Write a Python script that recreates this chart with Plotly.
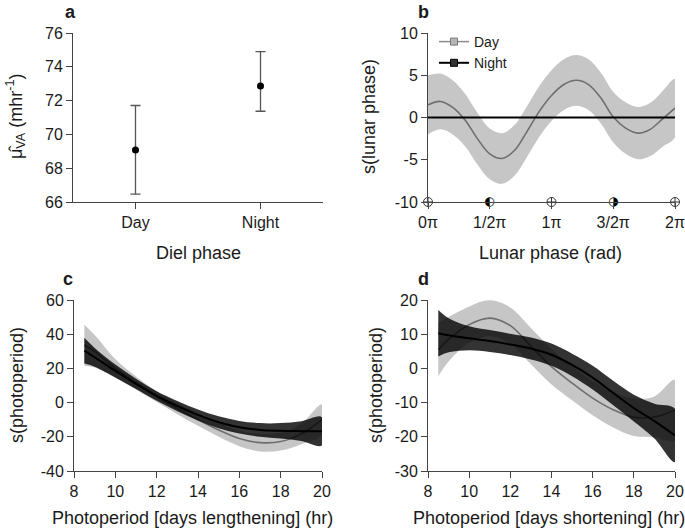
import numpy as np
import plotly.graph_objects as go

# ---------------- data ----------------
# panel a
diel = ["Day", "Night"]
mu_va = [69.08, 72.87]
mu_hi = [71.71, 74.90]
mu_lo = [66.47, 71.37]
a_ticks = [66, 68, 70, 72, 74, 76]

# panel b (lunar phase in units of pi)
lunar_x = [0.0, 0.1, 0.2, 0.3, 0.4, 0.5, 0.6, 0.7, 0.8, 0.9, 1.0,
           1.1, 1.2, 1.3, 1.4, 1.5, 1.6, 1.7, 1.8, 1.9, 2.0]
lunar_day = [1.5, 1.9, 1.2, -0.3, -2.5, -4.3, -4.85, -3.9, -1.7, 0.7, 2.6,
             3.9, 4.4, 3.9, 2.3, 0.05, -1.25, -1.85, -1.4, -0.15, 1.1]
lunar_day_hw = [3.5, 3.3, 3.2, 3.1, 3.05, 3.0, 3.0, 3.0, 3.0, 3.0, 3.0,
                3.0, 3.0, 3.0, 3.0, 3.0, 3.05, 3.1, 3.15, 3.3, 3.45]
lunar_night = [0.0, 0.0, 0.0, 0.0, 0.0, 0.0, 0.0, 0.0, 0.0, 0.0, 0.0,
               0.0, 0.0, 0.0, 0.0, 0.0, 0.0, 0.0, 0.0, 0.0, 0.0]
lunar_tickvals = [0.0, 0.5, 1.0, 1.5, 2.0]
lunar_ticks = ["0\u03C0", "1/2\u03C0", "1\u03C0", "3/2\u03C0", "2\u03C0"]
moon_full_x = [0.0, 1.0, 2.0]          # full moon / new moon symbols
moon_half_x = [0.5, 1.5]               # quarter moons
moon_half_glyph = ["\u25D0", "\u25D1"]
b_ticks = [-10, -5, 0, 5, 10]

# panels c, d (photoperiod, hr)
photo_x = [8.5, 9, 10, 11, 12, 13, 14, 15, 16, 17, 18, 19, 20]
photo_ticks = [8, 10, 12, 14, 16, 18, 20]
len_day = [33.5, 30.0, 20.0, 11.5, 3.5, -3.5, -10.0, -16.0, -21.0, -23.4, -22.8, -18.3, -10.0]
len_day_hw = [12.0, 9.5, 5.5, 3.8, 3.2, 3.3, 3.6, 4.0, 4.5, 5.2, 5.2, 6.0, 9.0]
len_night = [30.4, 26.5, 18.5, 11.0, 3.9, -2.0, -7.2, -11.5, -14.4, -16.0, -16.5, -16.7, -16.8]
len_night_hw = [7.5, 5.5, 3.8, 3.0, 2.8, 3.0, 3.2, 3.5, 3.7, 4.0, 4.5, 5.8, 8.3]
c_ticks = [-40, -20, 0, 20, 40, 60]

sho_day = [5.5, 8.5, 12.8, 14.7, 12.5, 6.5, 0.5, -4.3, -8.7, -12.1, -14.3, -14.2, -12.2]
sho_day_hw = [7.8, 6.5, 5.3, 5.2, 5.3, 5.3, 5.2, 5.0, 5.0, 5.2, 5.5, 6.0, 8.8]
sho_night = [10.3, 9.7, 8.8, 8.0, 7.0, 5.8, 4.0, 1.0, -2.7, -7.2, -11.6, -15.4, -19.6]
sho_night_hw = [6.8, 5.0, 3.5, 3.2, 3.1, 3.2, 3.25, 3.3, 3.5, 3.6, 3.9, 5.1, 7.8]
d_ticks = [-30, -20, -10, 0, 10, 20]

# ---------------- style ----------------
FONT = "Liberation Sans, Arial, Helvetica, sans-serif"
AX = "#444444"
LIGHT = "#c6c6c6"
DARK = "rgba(0,0,0,0.80)"
GREYLINE = "#6e6e6e"
TICK_SIZE = 16
TITLE_SIZE = 18

fig = go.Figure()


def band(x, fit, hw, color, xa, ya):
    x = np.asarray(x, float)
    fit = np.asarray(fit, float)
    hw = np.asarray(hw, float)
    up = fit + hw
    lo = fit - hw
    fig.add_trace(go.Scatter(
        x=np.concatenate([x, x[::-1]]), y=np.concatenate([up, lo[::-1]]),
        fill="toself", fillcolor=color, mode="lines",
        line=dict(width=0, shape="spline", smoothing=1.0),
        hoverinfo="skip", showlegend=False, xaxis=xa, yaxis=ya))


def curve(x, y, color, width, xa, ya):
    fig.add_trace(go.Scatter(
        x=x, y=y, mode="lines", line=dict(color=color, width=width, shape="spline"),
        showlegend=False, xaxis=xa, yaxis=ya))


# panel a
fig.add_trace(go.Scatter(
    x=diel, y=mu_va, mode="markers",
    marker=dict(color="black", size=7),
    error_y=dict(type="data", symmetric=False,
                 array=list(np.array(mu_hi) - np.array(mu_va)),
                 arrayminus=list(np.array(mu_va) - np.array(mu_lo)),
                 color="#555555", thickness=1.3, width=5),
    showlegend=False, xaxis="x", yaxis="y"))

# panel b
band(lunar_x, lunar_day, lunar_day_hw, LIGHT, "x2", "y2")
curve(lunar_x, lunar_day, GREYLINE, 1.6, "x2", "y2")
curve(lunar_x, lunar_night, "black", 2, "x2", "y2")
fig.add_trace(go.Scatter(
    x=moon_full_x, y=[-10] * len(moon_full_x), mode="markers",
    marker=dict(symbol="circle-cross-open", size=9, color="#333333", line=dict(width=1)),
    cliponaxis=False, showlegend=False, xaxis="x2", yaxis="y2"))
fig.add_trace(go.Scatter(
    x=moon_half_x, y=[-10] * len(moon_half_x), mode="text",
    text=moon_half_glyph, textposition="middle center",
    textfont=dict(family="DejaVu Sans", size=12, color="black"),
    cliponaxis=False, showlegend=False, xaxis="x2", yaxis="y2"))
# legend entries
fig.add_trace(go.Scatter(
    x=[None], y=[None], mode="lines+markers", name="Day",
    line=dict(color="#8a8a8a", width=1.5),
    marker=dict(symbol="square", size=7, color="#b5b5b5", line=dict(color="#777777", width=1)),
    xaxis="x2", yaxis="y2"))
fig.add_trace(go.Scatter(
    x=[None], y=[None], mode="lines+markers", name="Night",
    line=dict(color="black", width=2),
    marker=dict(symbol="square", size=7, color="#333333", line=dict(color="black", width=1)),
    xaxis="x2", yaxis="y2"))

# panel c
band(photo_x, len_day, len_day_hw, LIGHT, "x3", "y3")
curve(photo_x, len_day, GREYLINE, 1.6, "x3", "y3")
band(photo_x, len_night, len_night_hw, DARK, "x3", "y3")
curve(photo_x, len_night, "black", 2, "x3", "y3")

# panel d
band(photo_x, sho_day, sho_day_hw, LIGHT, "x4", "y4")
curve(photo_x, sho_day, GREYLINE, 1.6, "x4", "y4")
band(photo_x, sho_night, sho_night_hw, DARK, "x4", "y4")
curve(photo_x, sho_night, "black", 2, "x4", "y4")

W, H = 685, 532


def xd(a, b):
    return [a / W, b / W]


def yd(top, bottom):
    return [1 - bottom / H, 1 - top / H]


def labels(vals):
    return [str(v) for v in vals]


axis_common = dict(showline=True, linecolor=AX, linewidth=1, ticks="outside",
                   ticklen=6, tickcolor=AX, tickwidth=1, showgrid=False,
                   zeroline=False, tickfont=dict(size=TICK_SIZE, color="#1a1a1a", family=FONT),
                   mirror=False)

fig.update_layout(
    width=W, height=H, margin=dict(l=0, r=0, t=0, b=0, pad=0, autoexpand=False),
    paper_bgcolor="white", plot_bgcolor="white",
    font=dict(family=FONT, color="#1a1a1a"),
    hovermode=False,
    xaxis=dict(domain=xd(73, 323), anchor="y", type="category", range=[-0.5, 1.5], **axis_common),
    yaxis=dict(domain=yd(33, 202), anchor="x", range=[66, 76], tickvals=a_ticks,
               ticktext=labels(a_ticks), **axis_common),
    xaxis2=dict(domain=xd(428, 675), anchor="y2", range=[0, 2], tickvals=lunar_tickvals,
                ticktext=lunar_ticks, **axis_common),
    yaxis2=dict(domain=yd(33, 202), anchor="x2", range=[-10, 10], tickvals=b_ticks,
                ticktext=labels(b_ticks), **axis_common),
    xaxis3=dict(domain=xd(74, 322), anchor="y3", range=[8, 20], tickvals=photo_ticks,
                ticktext=labels(photo_ticks), **axis_common),
    yaxis3=dict(domain=yd(300, 471), anchor="x3", range=[-40, 60], tickvals=c_ticks,
                ticktext=labels(c_ticks), **axis_common),
    xaxis4=dict(domain=xd(428, 675), anchor="y4", range=[8, 20], tickvals=photo_ticks,
                ticktext=labels(photo_ticks), **axis_common),
    yaxis4=dict(domain=yd(300, 471), anchor="x4", range=[-30, 20], tickvals=d_ticks,
                ticktext=labels(d_ticks), **axis_common),
    legend=dict(x=434 / W, y=1 - 26 / H, xanchor="left", yanchor="top",
                bgcolor="rgba(0,0,0,0)", font=dict(size=14, family=FONT, color="#1a1a1a"),
                itemwidth=30, tracegroupgap=0),
    showlegend=True,
)


def ann(text, x, y, size=TITLE_SIZE, angle=0, bold=False):
    fig.add_annotation(text=("<b>%s</b>" % text) if bold else text,
                       x=x / W, y=1 - y / H, xref="paper", yref="paper",
                       showarrow=False, textangle=angle, xanchor="center", yanchor="middle",
                       font=dict(size=size, family=FONT, color="#1a1a1a"))


# panel letters
ann("a", 70, 12, size=18, bold=True)
ann("b", 423, 12, size=18, bold=True)
ann("c", 68, 279, size=18, bold=True)
ann("d", 423, 279, size=18, bold=True)

# axis titles
ann("Diel phase", 198, 253)
ann("Lunar phase (rad)", 550, 253)
ann("Photoperiod [days lengthening] (hr)", 192, 518)
ann("Photoperiod [days shortening] (hr)", 549, 518)
ann("\u03BC\u0302<sub>VA</sub> (mhr<sup>-1</sup>)", 15, 117, angle=-90)
ann("s(lunar phase)", 369, 117, angle=-90)
ann("s(photoperiod)", 17, 385, angle=-90)
ann("s(photoperiod)", 376, 385, angle=-90)

fig.write_html("out.html", config={"displayModeBar": False},
               post_script="document.body.style.margin='0px';document.body.style.overflow='hidden';")
